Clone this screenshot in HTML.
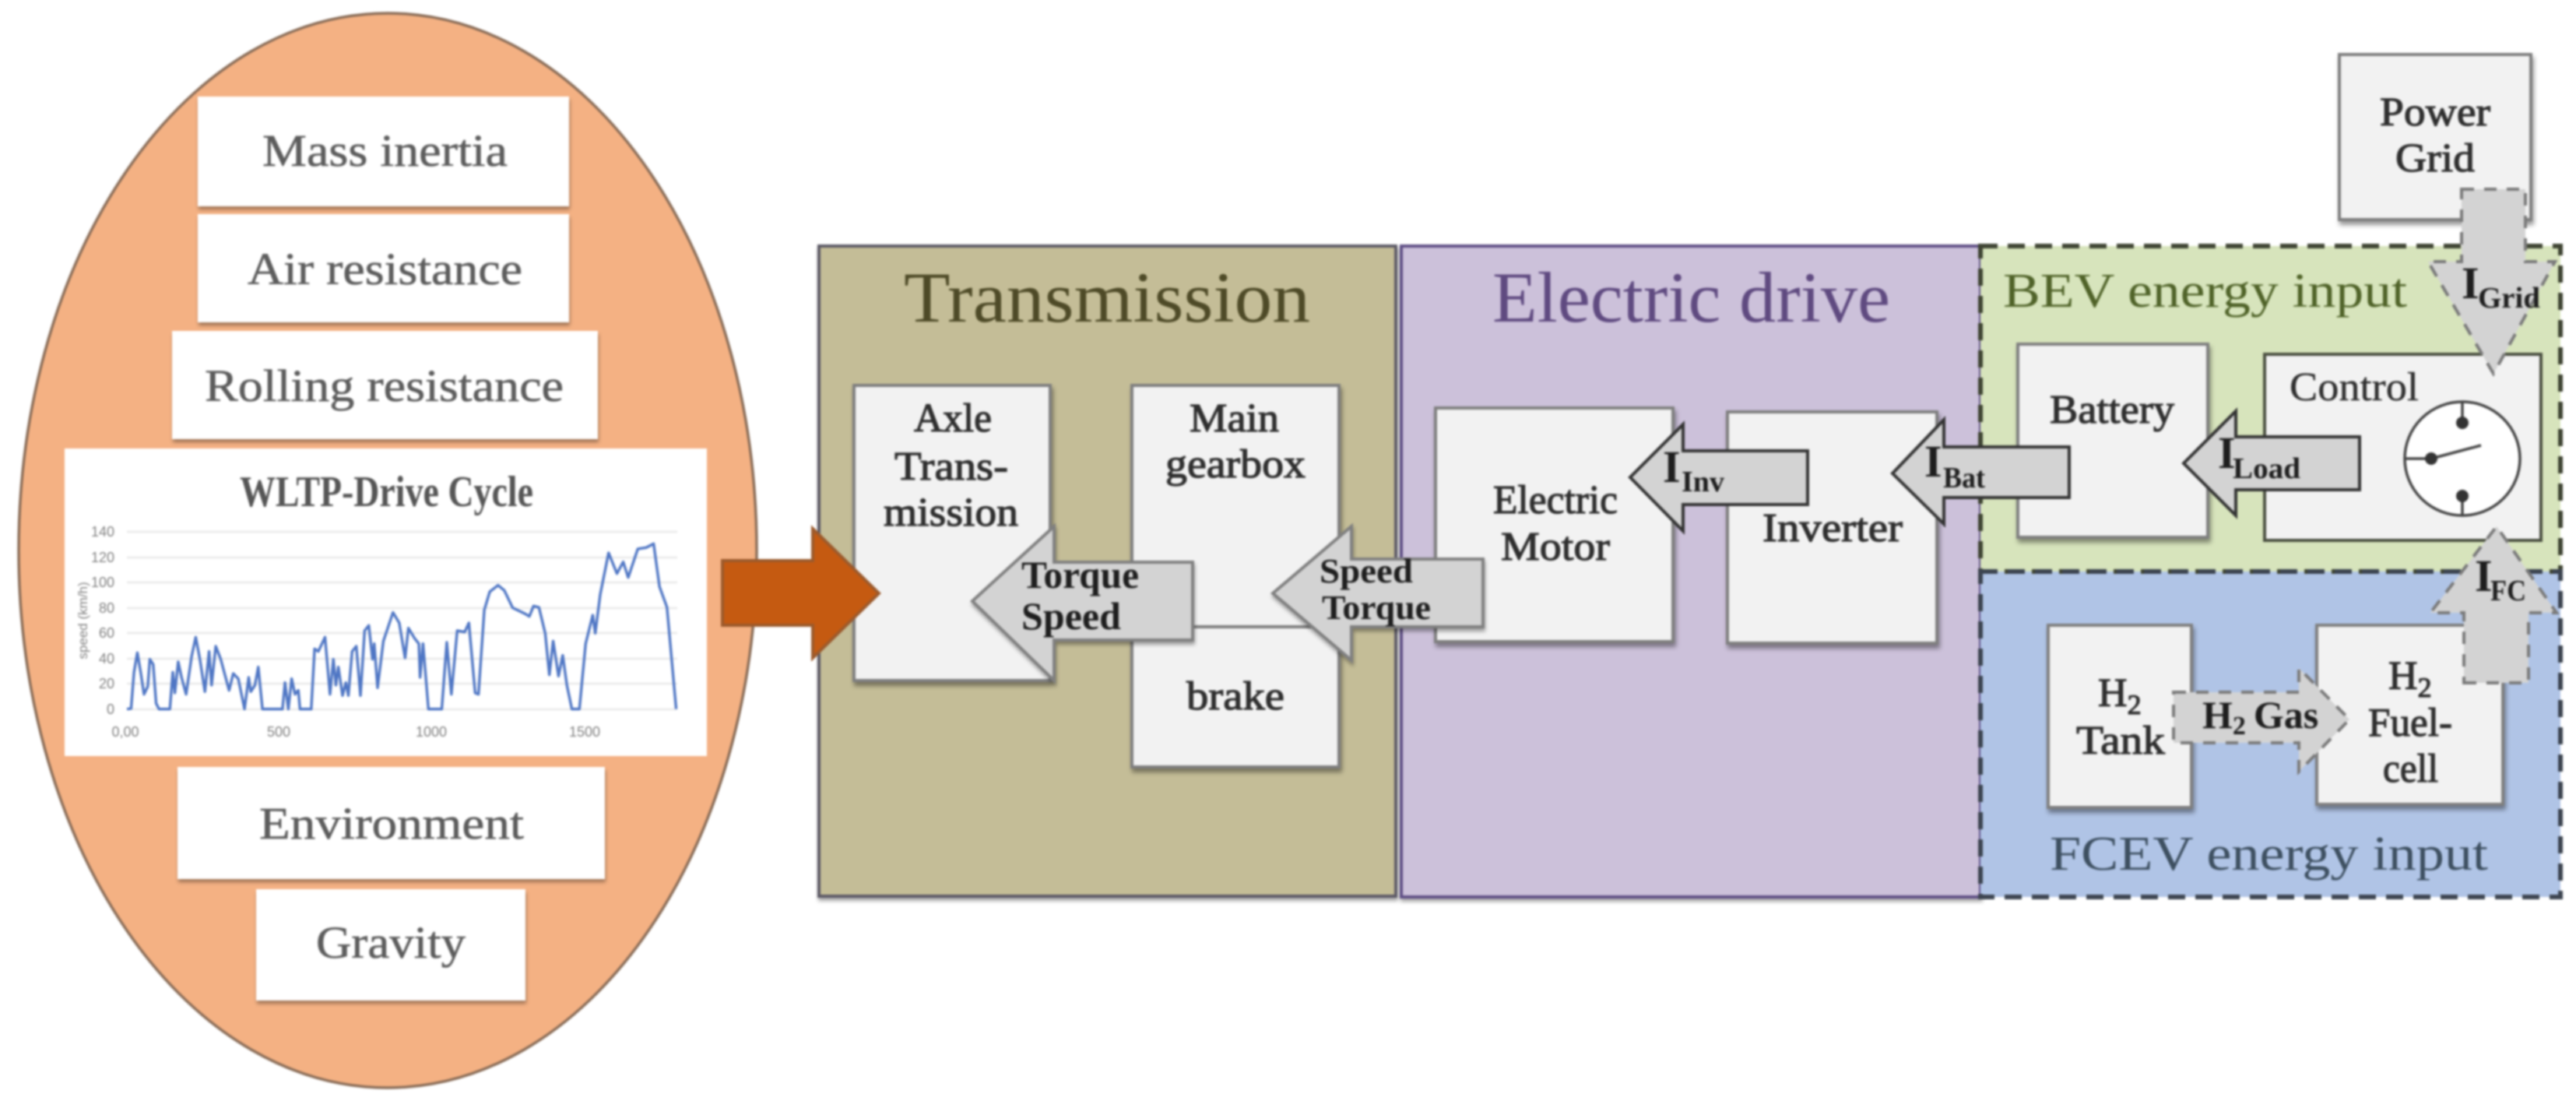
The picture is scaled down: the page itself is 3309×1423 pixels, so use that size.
<!DOCTYPE html>
<html><head><meta charset="utf-8">
<style>
html,body{margin:0;padding:0;background:#fff;width:3309px;height:1423px;overflow:hidden}
svg{display:block;filter:blur(1.3px)}
text{font-family:"Liberation Serif",serif}
.l{font-size:58px;fill:#5c5c5c;stroke:#5c5c5c;stroke-width:.6}
.b{font-size:52px;fill:#2e2e2e;stroke:#2e2e2e;stroke-width:1.2}
.a{font-size:50px;fill:#1e1e1e;font-weight:bold}
.i{font-size:58px;fill:#1e1e1e;font-weight:bold}
.s{font-size:38px;fill:#1e1e1e;font-weight:bold}
.h{font-size:92px}
.e{font-size:62px}
.box{fill:#f2f2f2;stroke:#7f7f7f;stroke-width:4;filter:url(#sh)}
.wb{fill:#fff;filter:url(#sh2)}
.ar{fill:#d3d3d3;stroke:#808080;stroke-width:4;filter:url(#sh2)}
.ad{fill:#d3d3d3;stroke:#333;stroke-width:4}
.ag{fill:#d3d3d3;stroke:#7a7a7a;stroke-width:4;stroke-dasharray:16 13}
.ax{font-family:"Liberation Sans",sans-serif;font-size:18px;fill:#808080}
</style></head><body>
<svg width="3309" height="1423" viewBox="0 0 3309 1423" xmlns="http://www.w3.org/2000/svg">
<defs>
<filter id="sh" x="-10%" y="-10%" width="125%" height="125%"><feDropShadow dx="2" dy="5" stdDeviation="3" flood-color="#000" flood-opacity=".4"/></filter>
<filter id="sh2" x="-10%" y="-10%" width="125%" height="125%"><feDropShadow dx="1" dy="4" stdDeviation="2.5" flood-color="#000" flood-opacity=".35"/></filter>
</defs>

<!-- Left ellipse -->
<ellipse cx="498" cy="707" rx="474" ry="690" fill="#f4b183" stroke="#8a6d58" stroke-width="3.5"/>
<rect class="wb" x="254" y="124" width="477" height="141"/>
<rect class="wb" x="254" y="275" width="477" height="139"/>
<rect class="wb" x="221" y="425" width="547" height="139"/>
<rect x="83" y="576" width="825" height="395" fill="#fff"/>
<rect class="wb" x="228" y="985" width="549" height="144"/>
<rect class="wb" x="329" y="1142" width="346" height="143"/>
<text class="l" x="337" y="213" textLength="315" lengthAdjust="spacingAndGlyphs">Mass inertia</text>
<text class="l" x="318" y="365" textLength="353" lengthAdjust="spacingAndGlyphs">Air resistance</text>
<text class="l" x="263" y="515" textLength="461" lengthAdjust="spacingAndGlyphs">Rolling  resistance</text>
<text class="l" x="333" y="1077" textLength="340" lengthAdjust="spacingAndGlyphs">Environment</text>
<text class="l" x="406" y="1230" textLength="192" lengthAdjust="spacingAndGlyphs">Gravity</text>

<!-- Chart -->
<text x="308" y="650" font-size="56" font-weight="bold" fill="#555" textLength="377" lengthAdjust="spacingAndGlyphs">WLTP-Drive Cycle</text>
<g stroke="#e9e9e9" stroke-width="2.5">
<line x1="163" x2="870" y1="683" y2="683"/><line x1="163" x2="870" y1="716" y2="716"/><line x1="163" x2="870" y1="748" y2="748"/><line x1="163" x2="870" y1="781" y2="781"/><line x1="163" x2="870" y1="813" y2="813"/><line x1="163" x2="870" y1="846" y2="846"/><line x1="163" x2="870" y1="878" y2="878"/><line x1="163" x2="870" y1="911" y2="911"/>
</g>
<g text-anchor="end">
<text class="ax" x="147" y="689">140</text><text class="ax" x="147" y="722">120</text><text class="ax" x="147" y="754">100</text><text class="ax" x="147" y="787">80</text><text class="ax" x="147" y="819">60</text><text class="ax" x="147" y="852">40</text><text class="ax" x="147" y="884">20</text><text class="ax" x="147" y="917">0</text>
</g>
<text class="ax" transform="translate(112,797) rotate(-90)" text-anchor="middle" style="font-size:17px">speed (km/h)</text>
<g text-anchor="middle"><text class="ax" x="161" y="946">0,00</text><text class="ax" x="358" y="946">500</text><text class="ax" x="554" y="946">1000</text><text class="ax" x="751" y="946">1500</text></g>
<g transform="translate(80,570) scale(0.5357,0.3333)">
<polyline fill="none" stroke="#4f76c4" stroke-width="3.4" stroke-linejoin="round" vector-effect="non-scaling-stroke" points="155,1022 165,1020 172,880 180,805 188,880 196,965 205,935 210,830 218,850 225,1000 232,1022 258,1022 265,880 270,960 278,840 286,900 297,965 310,820 320,745 330,830 342,955 352,800 358,930 368,780 380,830 400,950 410,885 422,905 437,1022 447,900 452,955 462,930 470,860 480,1022 528,1022 534,920 542,1022 550,905 558,965 566,950 570,1022 597,1022 605,790 614,800 630,745 642,965 650,830 656,930 662,860 672,970 680,920 686,970 695,800 705,780 715,970 725,720 735,700 744,830 748,770 756,940 770,760 793,650 808,690 822,825 830,710 845,750 855,770 858,900 865,770 878,1022 910,1022 922,765 933,965 947,720 965,725 975,690 990,960 998,965 1012,640 1025,570 1045,545 1060,565 1080,632 1110,655 1120,665 1130,625 1143,630 1158,730 1168,890 1177,760 1190,895 1200,815 1210,930 1222,1022 1240,1022 1255,770 1272,660 1278,730 1290,580 1310,420 1330,500 1345,455 1357,515 1380,405 1400,400 1418,385 1432,550 1450,630 1472,1022"/>
</g>

<!-- Panels -->
<rect x="1052" y="316" width="741" height="835" fill="#c4bd97" stroke="#5d5a66" stroke-width="4" filter="url(#sh2)"/>
<rect x="1800" y="316" width="744" height="836" fill="#ccc1da" stroke="#5f4f85" stroke-width="4" filter="url(#sh2)"/>
<rect x="2544" y="316" width="745" height="418" fill="#d7e4bc"/>
<rect x="2544" y="734" width="745" height="418" fill="#b0c4e6"/>
<g fill="none" stroke="#3f4433" stroke-width="6" stroke-dasharray="22 13">
<rect x="2544" y="316" width="745" height="418"/>
<rect x="2544" y="734" width="745" height="418" stroke="#3c4450"/>
</g>
<text class="h" x="1161" y="413" fill="#4e4a27" textLength="522" lengthAdjust="spacingAndGlyphs">Transmission</text>
<text class="h" x="1917" y="413" fill="#5f4a80" textLength="511" lengthAdjust="spacingAndGlyphs">Electric drive</text>
<text class="e" x="2573" y="394" fill="#4f6228" textLength="519" lengthAdjust="spacingAndGlyphs">BEV energy input</text>
<text class="e" x="2633" y="1117" fill="#3d4f60" textLength="563" lengthAdjust="spacingAndGlyphs">FCEV energy input</text>

<!-- Boxes -->
<rect class="box" x="1097" y="495" width="252" height="379"/>
<rect class="box" x="1454" y="495" width="266" height="310"/>
<rect class="box" x="1454" y="805" width="266" height="180"/>
<rect class="box" x="1844" y="524" width="305" height="300"/>
<rect class="box" x="2219" y="529" width="269" height="297"/>
<rect class="box" x="2592" y="442" width="244" height="248"/>
<rect x="2909" y="455" width="355" height="239" fill="#f2f2f2" stroke="#4a4f40" stroke-width="4"/>
<rect class="box" x="3005" y="70" width="246" height="212"/>
<rect class="box" x="2631" y="803" width="184" height="234"/>
<rect class="box" x="2976" y="803" width="239" height="230"/>

<!-- Switch -->
<ellipse cx="3163" cy="589" rx="74" ry="73" fill="#fff" stroke="#444" stroke-width="3.5"/>
<g stroke="#444" stroke-width="3.5"><line x1="3163" y1="515" x2="3163" y2="543"/><line x1="3090" y1="589" x2="3123" y2="589"/><line x1="3163" y1="637" x2="3163" y2="662"/><line x1="3123" y1="589" x2="3187" y2="572"/></g>
<circle cx="3163" cy="543" r="8" fill="#333"/><circle cx="3123" cy="589" r="8" fill="#333"/><circle cx="3163" cy="637" r="8" fill="#333"/>

<!-- Box labels -->
<text class="b" x="1174" y="554" textLength="100" lengthAdjust="spacingAndGlyphs">Axle</text>
<text class="b" x="1149" y="616" textLength="146" lengthAdjust="spacingAndGlyphs">Trans-</text>
<text class="b" x="1135" y="675" textLength="173" lengthAdjust="spacingAndGlyphs">mission</text>
<text class="b" x="1528" y="554" textLength="115" lengthAdjust="spacingAndGlyphs">Main</text>
<text class="b" x="1497" y="613" textLength="180" lengthAdjust="spacingAndGlyphs">gearbox</text>
<text class="b" x="1524" y="911" textLength="126" lengthAdjust="spacingAndGlyphs">brake</text>
<text class="b" x="1918" y="659" textLength="160" lengthAdjust="spacingAndGlyphs">Electric</text>
<text class="b" x="1928" y="719" textLength="140" lengthAdjust="spacingAndGlyphs">Motor</text>
<text class="b" x="2264" y="695" textLength="180" lengthAdjust="spacingAndGlyphs">Inverter</text>
<text class="b" x="2633" y="543" textLength="160" lengthAdjust="spacingAndGlyphs">Battery</text>
<text class="b" x="2941" y="514" textLength="166" lengthAdjust="spacingAndGlyphs" style="stroke-width:.4">Control</text>
<text class="b" x="3057" y="161" textLength="142" lengthAdjust="spacingAndGlyphs">Power</text>
<text class="b" x="3077" y="220" textLength="102" lengthAdjust="spacingAndGlyphs">Grid</text>
<text class="b" x="2695" y="907">H<tspan font-size="34" dy="10" style="font-size:36px">2</tspan></text>
<text class="b" x="2667" y="968" textLength="114" lengthAdjust="spacingAndGlyphs">Tank</text>
<text class="b" x="3068" y="885">H<tspan font-size="34" dy="10" style="font-size:36px">2</tspan></text>
<text class="b" x="3042" y="945" textLength="108" lengthAdjust="spacingAndGlyphs">Fuel-</text>
<text class="b" x="3061" y="1004" textLength="71" lengthAdjust="spacingAndGlyphs">cell</text>

<!-- Brown arrow -->
<polygon points="928,720 1044,720 1044,679 1129,762 1044,845 1044,803 928,803" fill="#c55a11" stroke="#9c5a2c" stroke-width="4"/>

<!-- Grey arrows -->
<polygon class="ar" points="1532,722 1354,722 1354,676 1249,772 1354,874 1354,822 1532,822"/>
<polygon class="ar" points="1905,718 1736,718 1736,676 1635,762 1736,848 1736,805 1905,805"/>
<polygon class="ad" points="2322,579 2162,579 2162,545 2094,613 2162,682 2162,648 2322,648"/>
<polygon class="ad" points="2658,574 2497,574 2497,539 2431,608 2497,673 2497,639 2658,639"/>
<polygon class="ad" points="3031,561 2872,561 2872,528 2805,595 2872,662 2872,629 3031,629"/>
<polygon class="ag" points="3162,243 3244,243 3244,336 3282,336 3203,480 3119,336 3162,336"/>
<polygon class="ag" points="3165,877 3248,877 3248,787 3284,787 3207,676 3122,787 3165,787"/>
<polygon class="ag" points="2792,889 2953,889 2953,858 3018,924 2953,991 2953,954 2792,954"/>

<!-- Arrow labels -->
<text class="a" x="1312" y="755" textLength="151" lengthAdjust="spacingAndGlyphs">Torque</text>
<text class="a" x="1312" y="808" textLength="128" lengthAdjust="spacingAndGlyphs">Speed</text>
<text class="a" x="1695" y="748" style="font-size:44px" textLength="120" lengthAdjust="spacingAndGlyphs">Speed</text>
<text class="a" x="1698" y="795" style="font-size:44px" textLength="140" lengthAdjust="spacingAndGlyphs">Torque</text>
<text class="i" x="2136" y="619">I</text><text class="s" x="2160" y="631">Inv</text>
<text class="i" x="2472" y="612">I</text><text class="s" x="2496" y="626" textLength="54" lengthAdjust="spacingAndGlyphs">Bat</text>
<text class="i" x="2849" y="601">I</text><text class="s" x="2868" y="614" textLength="87" lengthAdjust="spacingAndGlyphs">Load</text>
<text class="i" x="3162" y="383">I</text><text class="s" x="3183" y="395" textLength="80" lengthAdjust="spacingAndGlyphs">Grid</text>
<text class="i" x="3179" y="759">I</text><text class="s" x="3199" y="771" textLength="46" lengthAdjust="spacingAndGlyphs">FC</text>
<text class="a" x="2829" y="935" style="font-size:50px">H<tspan dy="8" style="font-size:34px">2</tspan><tspan dy="-8" dx="10">Gas</tspan></text>
</svg>
</body></html>
